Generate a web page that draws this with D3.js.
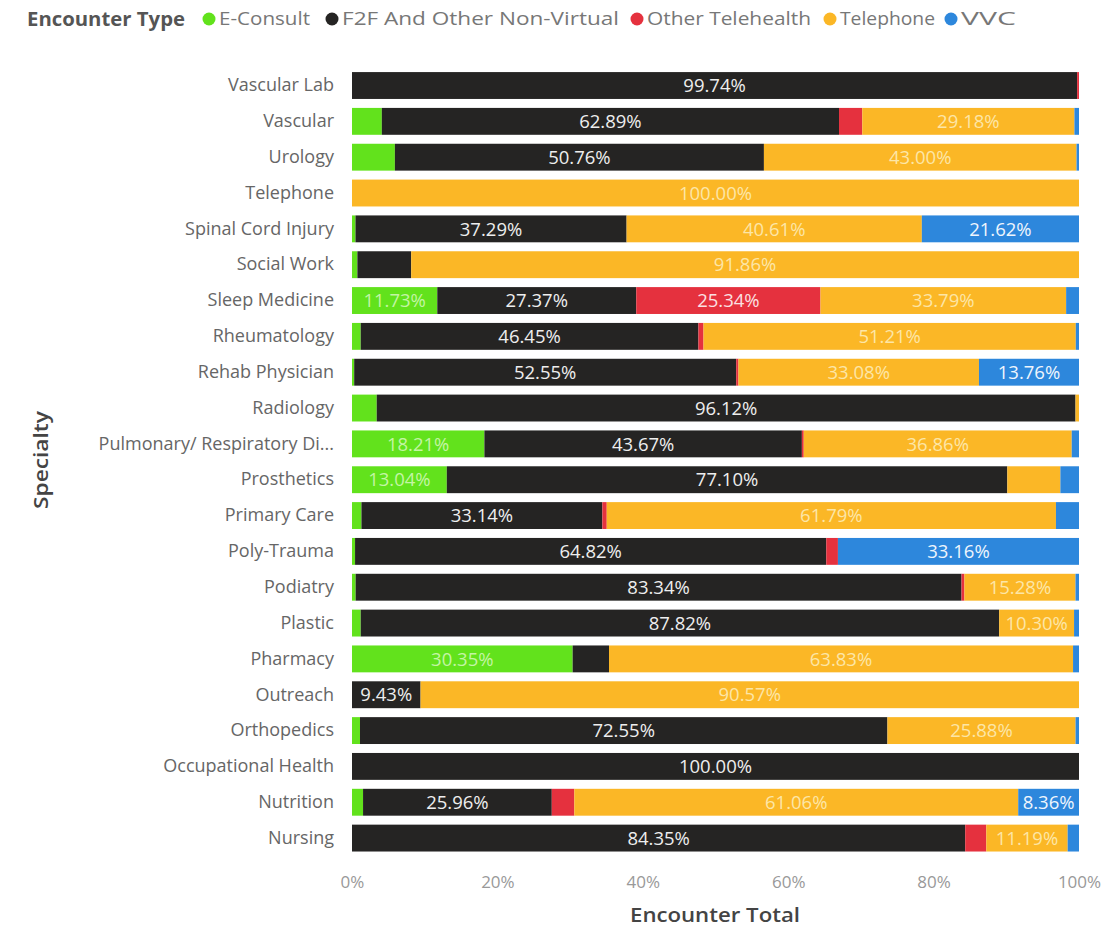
<!DOCTYPE html>
<html>
<head>
<meta charset="utf-8">
<script src="https://cdn.jsdelivr.net/npm/d3@7"></script>
<style>
  body { margin: 0; background: #fff; }
  svg text { font-family: "Open Sans", "Noto Sans", sans-serif; }
</style>
</head>
<body>
<div id="chart"></div>
<script>
const W = 1115, H = 929;

// data (percent of encounters per specialty)
const categories = ["Vascular Lab", "Vascular", "Urology", "Telephone", "Spinal Cord Injury", "Social Work",
  "Sleep Medicine", "Rheumatology", "Rehab Physician", "Radiology", "Pulmonary/ Respiratory Di...",
  "Prosthetics", "Primary Care", "Poly-Trauma", "Podiatry", "Plastic", "Pharmacy", "Outreach",
  "Orthopedics", "Occupational Health", "Nutrition", "Nursing"];
const seriesNames = ["E-Consult", "F2F And Other Non-Virtual", "Other Telehealth", "Telephone", "VVC"];
const eConsult  = [0, 4.10, 5.90, 0, 0.48, 0.74, 11.73, 1.20, 0.30, 3.40, 18.21, 13.04, 1.30, 0.42, 0.50, 1.20, 30.35, 0, 1.10, 0, 1.52, 0];
const f2f       = [99.74, 62.89, 50.76, 0, 37.29, 7.40, 27.37, 46.45, 52.55, 96.12, 43.67, 77.10, 33.14, 64.82, 83.34, 87.82, 5.00, 9.43, 72.55, 100.00, 25.96, 84.35];
const otherTele = [0.26, 3.20, 0, 0, 0, 0, 25.34, 0.70, 0.31, 0, 0.26, 0, 0.60, 1.60, 0.40, 0, 0, 0, 0, 0, 3.10, 2.90];
const telephone = [0, 29.18, 43.00, 100.00, 40.61, 91.86, 33.79, 51.21, 33.08, 0.48, 36.86, 7.30, 61.79, 0, 15.28, 10.30, 63.83, 90.57, 25.88, 0, 61.06, 11.19];
const vvc       = [0, 0.63, 0.34, 0, 21.62, 0, 1.77, 0.44, 13.76, 0, 1.00, 2.56, 3.17, 33.16, 0.48, 0.68, 0.82, 0, 0.47, 0, 8.36, 1.56];
const xTicks = [0, 20, 40, 60, 80, 100];

const colors = ["#62e21c", "#252423", "#e5313e", "#fbb726", "#2d87dc"];
const labelColors = ["#c4f5a4", "#eeeeee", "#fbe0e2", "#fde6a6", "#eef5fd"];

const table = categories.map((c, i) => ({
  cat: c,
  "E-Consult": eConsult[i],
  "F2F And Other Non-Virtual": f2f[i],
  "Other Telehealth": otherTele[i],
  "Telephone": telephone[i],
  "VVC": vvc[i]
}));

const stacked = d3.stack().keys(seriesNames)(table);

const x = d3.scaleLinear().domain([0, 100]).range([352, 1079]);
const y = d3.scaleBand().domain(categories).range([67.6, 856]).paddingInner(0.25).paddingOuter(0.125);

const svg = d3.select("#chart").append("svg")
  .attr("width", W).attr("height", H);

const legend = svg.append("g").attr("transform", "translate(27,19)");
legend.append("text")
  .attr("x", 0).attr("dy", "0.35em")
  .attr("font-size", 19.5).attr("font-weight", 700).attr("fill", "#555")
  .attr("textLength", 158).attr("lengthAdjust", "spacingAndGlyphs")
  .text("Encounter Type");
const lx = [209, 332, 637, 830, 951];
const lw = [91, 277, 164, 95, 55];
seriesNames.forEach((s, i) => {
  const g = legend.append("g").attr("transform", "translate(" + (lx[i] - 27) + ",0)");
  g.append("circle").attr("r", 6.5).attr("fill", colors[i]);
  g.append("text").attr("x", 10).attr("dy", "0.35em")
    .attr("font-size", 18.5).attr("fill", "#777")
    .attr("textLength", lw[i]).attr("lengthAdjust", "spacingAndGlyphs")
    .text(s);
});

// bars
const layer = svg.append("g").selectAll("g")
  .data(stacked)
  .enter().append("g")
  .attr("fill", (d, i) => colors[i]);

layer.selectAll("rect")
  .data(d => d)
  .enter().append("rect")
  .attr("x", d => x(d[0]))
  .attr("y", d => y(d.data.cat))
  .attr("width", d => x(d[1]) - x(d[0]))
  .attr("height", y.bandwidth());

// segment labels (only where they fit)
stacked.forEach((s, i) => {
  svg.append("g").selectAll("text")
    .data(s.filter(d => d[1] - d[0] >= 8))
    .enter().append("text")
    .attr("x", d => (x(d[0]) + x(d[1])) / 2)
    .attr("y", d => y(d.data.cat) + y.bandwidth() / 2)
    .attr("dy", "0.36em")
    .attr("text-anchor", "middle")
    .attr("font-size", 18.5)
    .attr("fill", labelColors[i])
    .text(d => (d[1] - d[0]).toFixed(2) + "%");
});

// axes
const yAxis = svg.append("g")
  .attr("transform", "translate(352,0)")
  .call(d3.axisLeft(y).tickSize(0).tickPadding(18));
yAxis.select(".domain").remove();
yAxis.selectAll("text").attr("font-size", 18).attr("fill", "#666")
  .style("font-family", "'Open Sans', sans-serif");

const xAxis = svg.append("g")
  .attr("transform", "translate(0,876)")
  .call(d3.axisBottom(x).tickValues(xTicks).tickFormat(d => d + "%").tickSize(0).tickPadding(0));
xAxis.select(".domain").remove();
xAxis.selectAll("text").attr("font-size", 17).attr("fill", "#999")
  .style("font-family", "'Open Sans', sans-serif");

svg.append("text")
  .attr("x", 715).attr("y", 922)
  .attr("text-anchor", "middle")
  .attr("font-size", 20).attr("font-weight", 600).attr("fill", "#444")
  .attr("textLength", 170).attr("lengthAdjust", "spacingAndGlyphs")
  .text("Encounter Total");

svg.append("text")
  .attr("transform", "translate(48,460) rotate(-90)")
  .attr("text-anchor", "middle")
  .attr("font-size", 20).attr("font-weight", 600).attr("fill", "#444")
  .attr("textLength", 98).attr("lengthAdjust", "spacingAndGlyphs")
  .text("Specialty");
</script>
</body>
</html>
